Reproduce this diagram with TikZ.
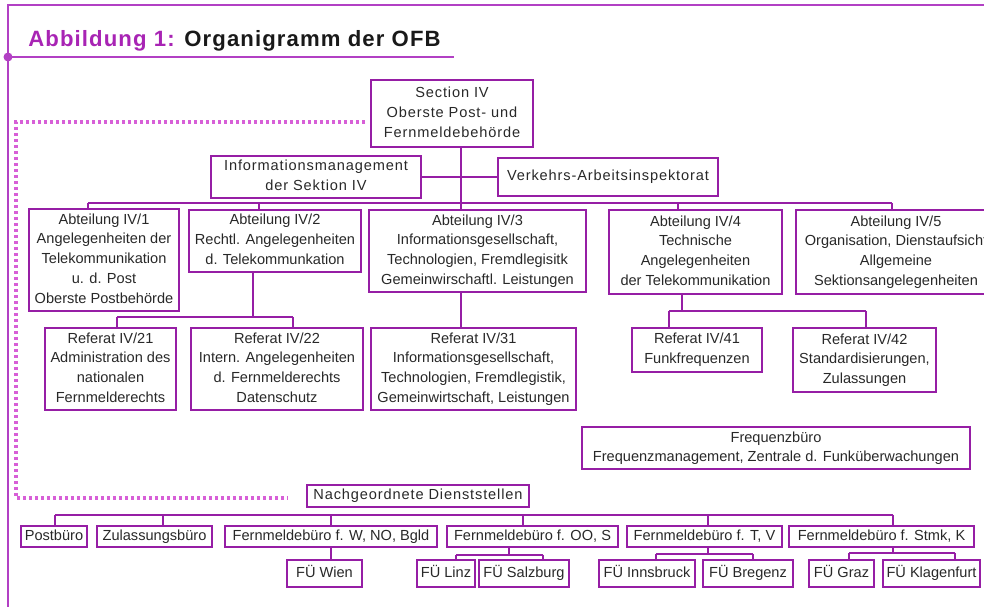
\documentclass[tikz,border=0pt]{standalone}
\usepackage{fontspec}
\setmainfont{Liberation Sans}
\newfontfamily\spacedfont[LetterSpace=6]{Liberation Sans}
\newfontfamily\headfont[LetterSpace=5]{Liberation Sans}
\usetikzlibrary{calc}

\definecolor{ofbline}{RGB}{150,30,165}
\definecolor{ofbframe}{RGB}{178,64,196}
\definecolor{ofbdots}{RGB}{215,95,215}
\definecolor{ofbtext}{RGB}{40,40,40}
\definecolor{ofbtitle}{RGB}{168,36,180}
\definecolor{ofbhead}{RGB}{25,25,25}

\newcommand{\unitfont}{\fontsize{8.3}{11.38}\selectfont}
\newcommand{\toprowfont}{\spacedfont\fontsize{8.3}{11.38}\selectfont}
\newcommand{\titlefont}{\headfont\bfseries\fontsize{12.6}{14}\selectfont}
\newcommand{\lines}[1]{\begin{tabular}{@{}c@{}}#1\end{tabular}}

\tikzset{
  unit/.style={draw=ofbline, line width=1pt, font=\unitfont,
    text=ofbtext, inner xsep=1pt, inner ysep=0.5pt},
  toprow/.style={unit, font=\toprowfont},
  boxsize/.style 2 args={minimum width=#1*0.02cm, minimum height=#2*0.02cm},
  link/.style={draw=ofbline, line width=1pt},
  frame/.style={draw=ofbframe, line width=1.4pt},
  dotline/.style={draw=ofbdots, line width=2pt, dash pattern=on 0.07cm off 0.05cm}
}

\begin{document}
\begin{tikzpicture}[x=0.02cm, y=-0.02cm]
    \useasboundingbox (0,0) rectangle (984,607);

    % Frame and title
    \draw[frame] (992,5) -- (8,5) -- (8,612);
    \draw[frame] (8,57) -- (454,57);
    \fill[ofbframe] (8,57) circle[radius=0.09cm];
    \node[anchor=base west, inner sep=0, text=ofbhead, font=\titlefont] (title) at (28,47)
    	{\textcolor{ofbtitle}{Abbildung 1:} Organigramm der OFB};

    % Section head
    \node[toprow, boxsize={162}{67}] (sec) at (452,113.5)
    	{\lines{Section IV\\Oberste Post- und\\Fernmeldebehörde}};
    \node[toprow, boxsize={210}{40}] (info) at (316,177)
    	{\lines{Informationsmanagement\\der Sektion IV}};
    \node[toprow, boxsize={220}{38}] (verk) at (608,177)
    	{\lines{Verkehrs-Arbeitsinspektorat}};

    % Abteilungen
    \foreach \n/\x/\y/\w/\h/\txt in {
    	1/104/260/150/100/{Abteilung IV/1\\Angelegenheiten der\\Telekommunikation\\u. d. Post\\Oberste Postbehörde},
    	2/275/241/172/62/{Abteilung IV/2\\Rechtl. Angelegenheiten\\d. Telekommunkation},
    	3/477.5/251/217/82/{Abteilung IV/3\\Informationsgesellschaft,\\Technologien, Fremdlegisitk\\Gemeinwirschaftl. Leistungen},
    	4/695.5/252/173/84/{Abteilung IV/4\\Technische\\Angelegenheiten\\der Telekommunikation},
    	5/896/252/200/84/{Abteilung IV/5\\Organisation, Dienstaufsicht\\Allgemeine\\Sektionsangelegenheiten}}
    {
    	\node[unit, boxsize={\w}{\h}] (abt\n) at (\x,\y) {\lines{\txt}};
    }

    % Referate
    \foreach \n/\x/\y/\w/\h/\txt in {
    	ref21/110.5/369/131/82/{Referat IV/21\\Administration des\\nationalen\\Fernmelderechts},
    	ref22/277/369/172/82/{Referat IV/22\\Intern. Angelegenheiten\\d. Fernmelderechts\\Datenschutz},
    	ref31/473.5/369/205/82/{Referat IV/31\\Informationsgesellschaft,\\Technologien, Fremdlegistik,\\Gemeinwirtschaft, Leistungen},
    	ref41/697/350/130/44/{Referat IV/41\\Funkfrequenzen},
    	ref42/864.5/360/143/64/{Referat IV/42\\Standardisierungen,\\Zulassungen}}
    {
    	\node[unit, boxsize={\w}{\h}] (\n) at (\x,\y) {\lines{\txt}};
    }

    \node[unit, boxsize={388}{40}] (freq) at (776,448)
    	{\lines{Frequenzbüro\\Frequenzmanagement, Zentrale d. Funküberwachungen}};

    % Nachgeordnete Dienststellen
    \node[toprow, boxsize={222}{22}] (nach) at (418,496) {\lines{Nachgeordnete Dienststellen}};

    \foreach \n/\x/\w/\txt in {
    	post/54/66/Postbüro,
    	zul/154.5/115/Zulassungsbüro,
    	fw/331/212/{Fernmeldebüro f. W, NO, Bgld},
    	fo/532.5/171/{Fernmeldebüro f. OO, S},
    	ft/704.5/155/{Fernmeldebüro f. T, V},
    	fs/881.5/185/{Fernmeldebüro f. Stmk, K}}
    {
    	\node[unit, boxsize={\w}{21}] (\n) at (\x,536.5) {\lines{\txt}};
    }

    \foreach \n/\x/\w/\txt in {
    	wien/324.5/75/FÜ Wien,
    	linz/446/58/FÜ Linz,
    	salz/524/90/FÜ Salzburg,
    	inns/647/96/FÜ Innsbruck,
    	breg/748/90/FÜ Bregenz,
    	graz/841.5/65/FÜ Graz,
    	klag/931.5/97/FÜ Klagenfurt}
    {
    	\node[unit, boxsize={\w}{27}] (\n) at (\x,573.5) {\lines{\txt}};
    }

    % Connect section head
    \coordinate (trunk) at (461,0);
    \draw[link] (sec.south -| trunk) -- (abt3.north -| trunk);
    \draw[link] (info) -- (verk);

    % Connect Abteilungen
    \foreach \n/\x in {1/88, 2/259, 3/461, 4/678, 5/892}
    {
    	\coordinate (abtbar-\n) at (\x,203);
    	\draw[link] (abtbar-\n) -- (abt\n.north -| abtbar-\n);
    }
    \draw[link] (abtbar-1) -- (abtbar-5);

    % Connect forks
    \foreach \parent/\fx/\fy/\kida/\ax/\kidb/\bx in {
    	abt2/253/317/ref21/117/ref22/293,
    	abt4/682/311/ref41/669/ref42/866,
    	fo/509/555/linz/456/salz/543,
    	ft/708/554/inns/656/breg/753,
    	fs/893/553/graz/849/klag/955}
    {
    	\coordinate (\parent-fork) at (\fx,\fy);
    	\coordinate (\kida-drop) at (\ax,\fy);
    	\coordinate (\kidb-drop) at (\bx,\fy);
    	\draw[link] (\parent.south -| \parent-fork) -- (\parent-fork);
    	\draw[link] (\kida-drop) -- (\kidb-drop);
    	\draw[link] (\kida-drop) -- (\kida.north -| \kida-drop);
    	\draw[link] (\kidb-drop) -- (\kidb.north -| \kidb-drop);
    }

    \draw[link] (abt3.south -| trunk) -- (ref31.north -| trunk);
    \coordinate (wien-drop) at (331,0);
    \draw[link] (fw.south -| wien-drop) -- (wien.north -| wien-drop);

    % Connect Dienststellen
    \foreach \n/\x in {post/55, zul/163, fw/331, fo/523, ft/708, fs/893}
    {
    	\coordinate (\n-bar) at (\x,515);
    	\draw[link] (\n-bar) -- (\n.north -| \n-bar);
    }
    \draw[link] (post-bar) -- (fs-bar);

    % Dotted link
    \coordinate (dot-top) at (16,122);
    \coordinate (dot-bot) at (16,498);
    \draw[dotline, shorten <=0.1cm, shorten >=0.38cm]
    	(sec.west |- dot-top) -- (dot-top) -- (dot-bot) -- (nach.west |- dot-bot);

\end{tikzpicture}
\end{document}
